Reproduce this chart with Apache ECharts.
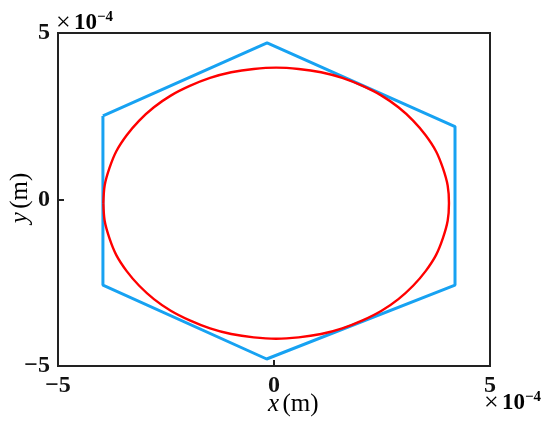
<!DOCTYPE html>
<html>
<head>
<meta charset="utf-8">
<script src="https://cdn.jsdelivr.net/npm/echarts@6/dist/echarts.min.js"></script>
<style>
  html, body { margin: 0; padding: 0; background: #fff; }
  #main { width: 550px; height: 437px; }
</style>
</head>
<body>
<div id="main"></div>
<script>
// values in units of 1e-4 m
var hexX = [-3.96, -0.16, 4.19, 4.19, -0.17, -3.96, -3.96];
var hexY = [2.51, 4.70, 2.19, -2.57, -4.79, -2.57, 2.51];

// red curve, going round clockwise from the left-most point
var ellX = [-3.95, -3.92, -3.81, -3.65, -3.41, -3.12, -2.78, -2.39, -1.95, -1.48, -0.99, -0.47,
            0.05, 0.57, 1.09, 1.58, 2.05, 2.49, 2.88, 3.22, 3.51, 3.75, 3.91, 4.02,
            4.05, 4.02, 3.91, 3.75, 3.51, 3.22, 2.88, 2.49, 2.05, 1.58, 1.09, 0.57,
            0.05, -0.47, -0.99, -1.48, -1.95, -2.39, -2.78, -3.12, -3.41, -3.65, -3.81, -3.92, -3.95];
var ellY = [-0.11, 0.42, 0.94, 1.45, 1.93, 2.37, 2.77, 3.12, 3.41, 3.65, 3.82, 3.92,
            3.96, 3.92, 3.82, 3.65, 3.41, 3.12, 2.77, 2.37, 1.93, 1.45, 0.94, 0.42,
            -0.11, -0.64, -1.16, -1.67, -2.15, -2.59, -2.99, -3.34, -3.63, -3.87, -4.04, -4.14,
            -4.18, -4.14, -4.04, -3.87, -3.63, -3.34, -2.99, -2.59, -2.15, -1.67, -1.16, -0.64, -0.11];

var ticks = [-5, 0, 5];

var serif = 'Liberation Serif';

function pairs(xs, ys) {
    return xs.map(function (x, i) { return [x, ys[i]]; });
}

function minus(v) {
    return v < 0 ? '\u2212' + Math.abs(v) : String(v);
}

var myChart = echarts.init(document.getElementById('main'));

var sciRich = {
    x: { fontFamily: serif, fontSize: 26, color: '#111' },
    b: { fontFamily: serif, fontSize: 23, fontWeight: 'bold', color: '#111' },
    s: { fontFamily: serif, fontSize: 15, fontWeight: 'bold', color: '#111', verticalAlign: 'top', padding: [0, 0, 12, 0] }
};

var nameRich = {
    i: { fontFamily: serif, fontSize: 25, fontStyle: 'italic', color: '#111' },
    n: { fontFamily: serif, fontSize: 25, color: '#111' }
};

var tickStyle = {
    axisLine: { show: true, onZero: false, lineStyle: { color: '#222', width: 2 } },
    axisTick: { show: true, inside: true, length: 6, lineStyle: { color: '#222', width: 2 } },
    axisLabel: {
        margin: 8, color: '#111', fontFamily: serif, fontSize: 24, fontWeight: 'bold',
        formatter: minus
    }
};

var option = {
    animation: false,
    backgroundColor: '#fff',
    grid: {
        left: 58, right: 60, top: 33, bottom: 71,
        outerBoundsMode: 'none',
        containLabel: false,
        show: true, borderColor: '#222', borderWidth: 2
    },
    xAxis: Object.assign({
        type: 'value',
        min: ticks[0], max: ticks[2], interval: 5,
        splitLine: { show: false }
    }, tickStyle),
    yAxis: Object.assign({
        type: 'value',
        min: ticks[0], max: ticks[2], interval: 5,
        splitLine: { show: false }
    }, tickStyle),
    graphic: [
        {
            type: 'text', left: 56, top: 10,
            style: { text: '{x|\u00d7} {b|10}{s|\u22124}', rich: sciRich }
        },
        {
            type: 'text', left: 484, top: 390,
            style: { text: '{x|\u00d7} {b|10}{s|\u22124}', rich: sciRich }
        },
        {
            type: 'text', left: 268, top: 392,
            style: { text: '{i|x} {n|(m)}', rich: nameRich }
        },
        {
            type: 'text', x: 20, y: 198, rotation: Math.PI / 2,
            style: { text: '{i|y} {n|(m)}', rich: nameRich, align: 'center', verticalAlign: 'middle' }
        }
    ],
    series: [
        {
            type: 'line',
            data: pairs(hexX, hexY),
            showSymbol: false,
            lineStyle: { color: '#17a2f2', width: 3 },
            z: 2
        },
        {
            type: 'line',
            data: pairs(ellX, ellY),
            smooth: 0.3,
            showSymbol: false,
            lineStyle: { color: '#ff0000', width: 2.4 },
            z: 3
        }
    ]
};

myChart.setOption(option);
</script>
</body>
</html>
